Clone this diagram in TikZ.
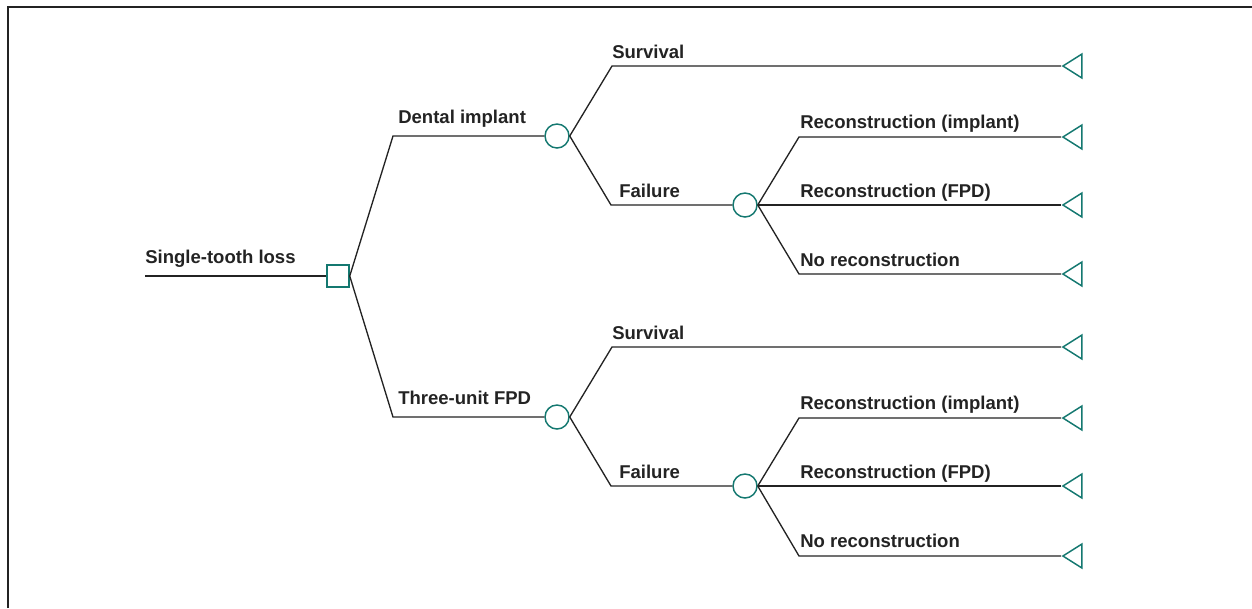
\documentclass[tikz,border=0pt]{standalone}
\usepackage{fontspec}
\setmainfont{Liberation Sans}
\usetikzlibrary{shapes.geometric}
\definecolor{nodeteal}{RGB}{20,120,112}
\definecolor{ink}{RGB}{35,35,35}
\begin{document}
\begin{tikzpicture}[x=0.75pt,y=-0.75pt,
  edge/.style={draw=ink, line width=1pt},
  decbox/.style={draw=nodeteal, rectangle, minimum size=16.5pt, inner sep=0pt, line width=1.1pt},
  chance/.style={draw=nodeteal, circle, minimum size=18pt, inner sep=0pt, line width=1.1pt},
  term/.style={draw=nodeteal, isosceles triangle, isosceles triangle stretches, shape border rotate=180, minimum height=14.25pt, minimum width=18pt, inner sep=0pt, line width=1.1pt, anchor=apex},
  lab/.style={anchor=base west, inner sep=0pt, font=\bfseries\fontsize{13.9}{16}\selectfont, text=ink}]
\useasboundingbox (0,0) rectangle (1252,608);
\draw[ink, line width=1.5pt] (8,608) -- (8,7) -- (1252,7);

% decision node
\coordinate (s) at (145,276);
\node[decbox] (D) at (338,276) {};
\draw[edge] (s) -- (D);
\node[lab] (lroot) at (145,263) {Single-tooth loss};

% upper branch
\coordinate (c1) at (393,136);
\node[chance] (n1) at (557,136) {};
\draw[edge] (D.east) -- (c1) -- (n1);
\node[lab] (l1) at (398,123) {Dental implant};

\coordinate (s1) at (612,66);
\node[term] (t1) at (1061,66) {};
\draw[edge] (n1.east) -- (s1) -- (t1.apex);
\node[lab] (l11) at (612,58) {Survival};

\coordinate (f1) at (611,205);
\node[chance] (n11) at (745,205) {};
\draw[edge] (n1.east) -- (f1) -- (n11);
\node[lab] (l12) at (619,197) {Failure};

\coordinate (r1) at (799,137);
\node[term] (t2) at (1061,137) {};
\node[term] (t3) at (1061,205) {};
\coordinate (r3) at (799,274);
\node[term] (t4) at (1061,274) {};
\draw[edge] (n11.east) -- (r1) -- (t2.apex);
\draw[edge] (n11.east) -- (t3.apex);
\draw[edge] (n11.east) -- (r3) -- (t4.apex);
\node[lab] (l121) at (800,128) {Reconstruction (implant)};
\node[lab] (l122) at (800,197) {Reconstruction (FPD)};
\node[lab] (l123) at (800,266) {No reconstruction};

% lower branch
\coordinate (c2) at (393,417);
\node[chance] (n2) at (557,417) {};
\draw[edge] (D.east) -- (c2) -- (n2);
\node[lab] (l2) at (398,404) {Three-unit FPD};

\coordinate (s2) at (612,347);
\node[term] (t5) at (1061,347) {};
\draw[edge] (n2.east) -- (s2) -- (t5.apex);
\node[lab] (l21) at (612,339) {Survival};

\coordinate (f2) at (611,486);
\node[chance] (n21) at (745,486) {};
\draw[edge] (n2.east) -- (f2) -- (n21);
\node[lab] (l22) at (619,478) {Failure};

\coordinate (r4) at (799,418);
\node[term] (t6) at (1061,418) {};
\node[term] (t7) at (1061,486) {};
\coordinate (r6) at (799,556);
\node[term] (t8) at (1061,556) {};
\draw[edge] (n21.east) -- (r4) -- (t6.apex);
\draw[edge] (n21.east) -- (t7.apex);
\draw[edge] (n21.east) -- (r6) -- (t8.apex);
\node[lab] (l221) at (800,409) {Reconstruction (implant)};
\node[lab] (l222) at (800,478) {Reconstruction (FPD)};
\node[lab] (l223) at (800,547) {No reconstruction};
\end{tikzpicture}
\end{document}
